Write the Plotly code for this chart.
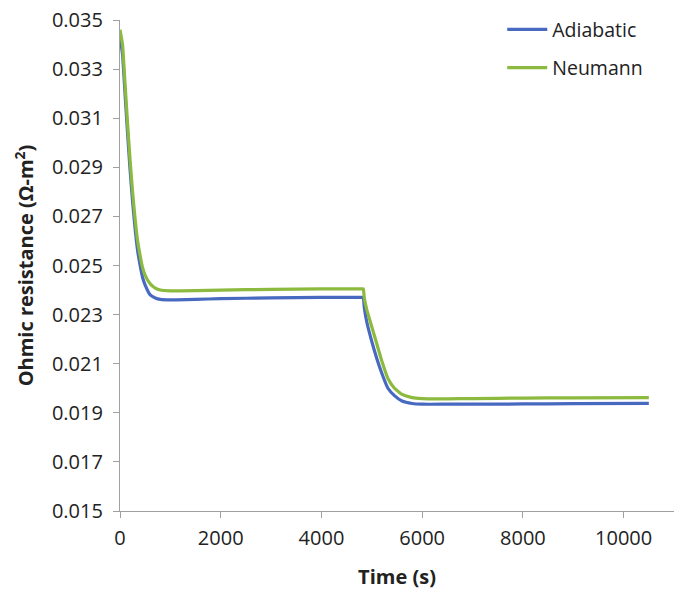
import plotly.graph_objects as go

time_s = [0, 50, 100, 150, 200, 250, 300, 350, 400, 450, 500, 600, 700, 800, 1000, 1500, 2000, 3000, 4000, 4800,
          4830, 4850, 4900, 5000, 5100, 5200, 5320, 5450, 5600, 5800, 6000, 6500, 7000, 8000, 9000, 10500]
adiabatic = [0.0343, 0.0336, 0.0320, 0.0304, 0.0289, 0.0276, 0.0265, 0.0256, 0.0250, 0.0245, 0.0242, 0.0238, 0.02368, 0.02362, 0.0236, 0.02362, 0.02365, 0.02368, 0.0237, 0.0237,
             0.0237, 0.0233, 0.0227, 0.0219, 0.0212, 0.0206, 0.0200, 0.0197, 0.01948, 0.01938, 0.01935, 0.01935, 0.01935, 0.01936, 0.01937, 0.01938]
neumann = [0.0346, 0.0340, 0.0324, 0.0308, 0.0293, 0.0280, 0.0269, 0.0260, 0.0254, 0.0249, 0.0246, 0.02425, 0.02408, 0.024, 0.02397, 0.02398, 0.024, 0.02403, 0.02405, 0.02405,
           0.02405, 0.0237, 0.0232, 0.0225, 0.0218, 0.0211, 0.0204, 0.0200, 0.01975, 0.01962, 0.01958, 0.01957, 0.01958, 0.0196, 0.01961, 0.01962]

series_names = ["Adiabatic", "Neumann"]
colors = ["#4769C0", "#8CBA3F"]

font_family = "Open Sans, Lato, sans-serif"

fig = go.Figure()
for i, (name, vals) in enumerate(zip(series_names, [adiabatic, neumann])):
    fig.add_trace(go.Scatter(x=time_s, y=vals, mode="lines", name=name,
                             line=dict(color=colors[i], width=3.2, shape="spline", smoothing=0.4),
                             legendgroup=name))

axis_common = dict(showgrid=False, zeroline=False, showline=True, linecolor="#a0a0a0", linewidth=1.2,
                   ticks="outside", ticklen=6, tickcolor="#a0a0a0",
                   tickfont=dict(size=20, color="#222", family=font_family))

fig.update_layout(
    width=680, height=592,
    margin=dict(l=120, r=6, t=18, b=81),
    paper_bgcolor="white", plot_bgcolor="white",
    font=dict(family=font_family, color="#222"),
    xaxis=dict(range=[0, 11000], dtick=2000, tick0=0, tickformat="d", ticklabelstandoff=3,
               title=dict(text="<b>Time (s)</b>", font=dict(size=20), standoff=19),
               **axis_common),
    yaxis=dict(range=[0.015, 0.035], dtick=0.002, tick0=0.015, tickformat=".3f", ticklabelstandoff=6,
               title=dict(text="<b>Ohmic resistance (Ω-m<sup>2</sup>)</b>", font=dict(size=20), standoff=12),
               **axis_common),
    showlegend=True,
    legend=dict(x=0.69, y=1.02, xanchor="left", yanchor="top", bgcolor="rgba(0,0,0,0)",
                font=dict(size=19.5, color="#222"), tracegroupgap=10, itemwidth=40),
)

fig.write_html("out.html")
